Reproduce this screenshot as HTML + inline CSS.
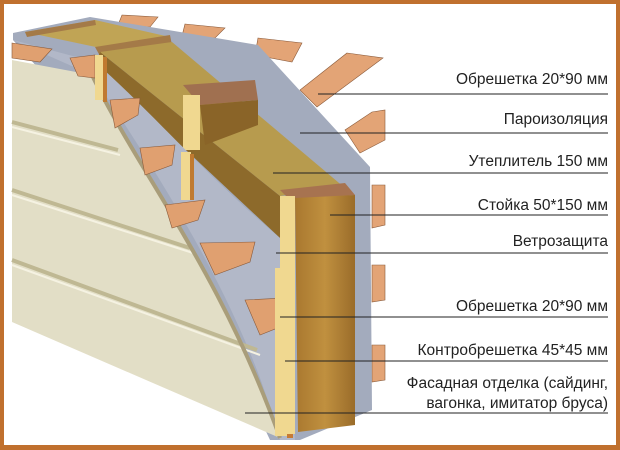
<!DOCTYPE html>
<html><head><meta charset="utf-8"><style>
html,body{margin:0;padding:0;background:#fff}
svg{display:block}
text{font-family:"Liberation Sans",sans-serif;font-size:15.5px;fill:#222}
</style></head><body>
<svg width="620" height="450" viewBox="0 0 620 450" xmlns="http://www.w3.org/2000/svg">
<rect x="0" y="0" width="620" height="450" fill="#c0702e"/>
<rect x="4" y="4" width="612" height="441" fill="#fff"/>
<defs>
<linearGradient id="wood" x1="0" x2="1"><stop offset="0" stop-color="#a9782f"/><stop offset="0.5" stop-color="#c0903f"/><stop offset="1" stop-color="#9a6c2a"/></linearGradient>
</defs>
<!-- right battens -->
<g fill="#e3a476" stroke="#8a5a3a" stroke-width="0.6">
<polygon points="122,15 158,17 150,27 118,25"/>
<polygon points="185,24 225,28 215,38 182,36"/>
<polygon points="258,38 302,43 292,62 255,55"/>
<polygon points="347,53 383,58 317,107 300,90"/>
<polygon points="372,112 385,110 385,140 360,153 345,130"/>
<polygon points="372,185 385,185 385,225 372,228"/>
<polygon points="372,265 385,265 385,300 372,302"/>
<polygon points="372,345 385,345 385,380 372,382"/>
</g>
<!-- vapor barrier gray -->
<polygon points="90,17 258,45 370,167 372,410 300,440 270,440 200,290 120,160 13,40 13,33" fill="#a3abbd"/>
<!-- insulation top face -->
<polygon points="25,32 95,20 170,37 110,50" fill="#c0a455"/>
<polygon points="25,32 95,20 96,25 27,37" fill="#a47a48"/>
<polygon points="95,47 170,35 172,45 100,56" fill="#a47a48"/>
<!-- insulation main -->
<polygon points="100,52 172,42 345,188 280,196" fill="#b79b4e"/>
<polygon points="100,52 280,196 280,238 95,65" fill="#8d6a2b"/>
<!-- stud 1 -->
<polygon points="183,85 255,80 258,100 200,105" fill="#a07050"/>
<rect x="183" y="95" width="17" height="55" fill="#f0d890"/>
<polygon points="200,105 258,100 258,125 205,145" fill="#8a6428"/>
<!-- wind barrier band -->
<path d="M13,40 L95,62 C150,110 200,170 280,238 L295,440 L280,440 C250,330 190,220 92,75 Z" fill="#b2b8c8"/>
<!-- siding -->
<path d="M12,60 L92,75 C140,175 220,270 280,438 L12,322 Z" fill="#e2dec6"/>
<g stroke="#bfb893" stroke-width="4" fill="none">
<line x1="12" y1="122" x2="118" y2="150"/>
<line x1="12" y1="190" x2="190" y2="248"/>
<line x1="12" y1="260" x2="257" y2="350"/>
</g>
<g stroke="#f5f2e2" stroke-width="2" fill="none">
<line x1="12" y1="127" x2="120" y2="155"/>
<line x1="12" y1="195" x2="193" y2="253"/>
<line x1="12" y1="265" x2="260" y2="355"/>
</g>
<path d="M92,75 C140,175 220,270 280,438" stroke="#a99d7a" stroke-width="4" fill="none"/>
<!-- left battens -->
<g fill="#e0a070" stroke="#8a5a3a" stroke-width="0.6">
<polygon points="12,43 52,49 40,62 12,58"/>
<polygon points="70,58 95,55 95,78 78,76"/>
<polygon points="110,100 140,98 138,115 115,128"/>
<polygon points="140,148 175,145 172,165 145,175"/>
<polygon points="165,205 205,200 198,220 172,228"/>
<polygon points="200,243 255,242 250,262 215,275"/>
<polygon points="245,300 285,298 285,325 260,335"/>
</g>
<!-- small vertical battens -->
<rect x="95" y="55" width="8" height="45" fill="#f0d890"/>
<rect x="103" y="57" width="4" height="45" fill="#c07a30"/>
<rect x="181" y="152" width="10" height="48" fill="#f0d890"/>
<rect x="190" y="154" width="4" height="46" fill="#c07a30"/>
<rect x="275" y="268" width="12" height="168" fill="#f0d890"/>
<rect x="287" y="268" width="6" height="170" fill="#c67a34"/>
<!-- stud 2 -->
<polygon points="280,190 345,183 355,195 290,200" fill="#a77350"/>
<rect x="280" y="196" width="15" height="238" fill="#f0d890"/>
<polygon points="295,198 355,195 355,425 298,432" fill="url(#wood)"/>
<!-- labels -->
<g text-anchor="end">
<text x="608" y="84">Обрешетка 20*90 мм</text>
<text x="608" y="124">Пароизоляция</text>
<text x="608" y="166">Утеплитель 150 мм</text>
<text x="608" y="210">Стойка 50*150 мм</text>
<text x="608" y="246">Ветрозащита</text>
<text x="608" y="311">Обрешетка 20*90 мм</text>
<text x="608" y="355">Контробрешетка 45*45 мм</text>
<text x="608" y="388">Фасадная отделка (сайдинг,</text>
<text x="608" y="408">вагонка, имитатор бруса)</text>
</g>
<g stroke="#222" stroke-width="1">
<line x1="318" y1="94" x2="608" y2="94"/>
<line x1="300" y1="133" x2="608" y2="133"/>
<line x1="273" y1="173" x2="608" y2="173"/>
<line x1="330" y1="215" x2="608" y2="215"/>
<line x1="276" y1="253" x2="608" y2="253"/>
<line x1="280" y1="317" x2="608" y2="317"/>
<line x1="285" y1="361" x2="608" y2="361"/>
<line x1="245" y1="413" x2="608" y2="413"/>
</g>
</svg>
</body></html>
